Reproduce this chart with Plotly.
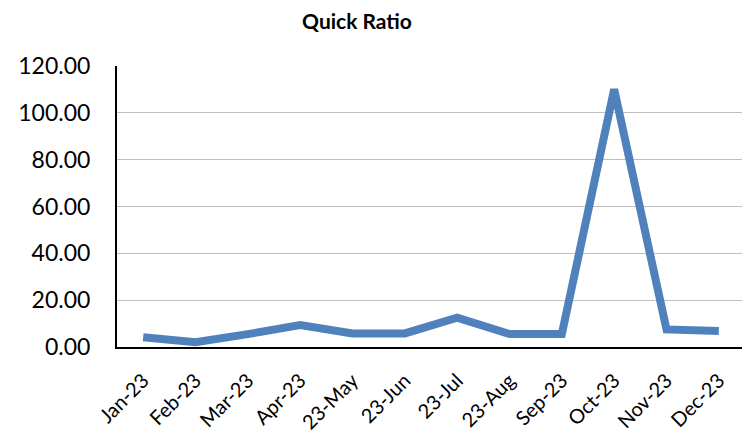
import plotly.graph_objects as go

months = ["Jan-23", "Feb-23", "Mar-23", "Apr-23", "23-May", "23-Jun",
          "23-Jul", "23-Aug", "Sep-23", "Oct-23", "Nov-23", "Dec-23"]
quick_ratio = [4.2, 2.0, 5.5, 9.4, 5.8, 5.8, 12.5, 5.5, 5.5, 110.0, 7.5, 6.8]
y_ticks = [0, 20, 40, 60, 80, 100, 120]

fig = go.Figure()
fig.add_trace(go.Scatter(
    x=months, y=quick_ratio, mode="lines",
    line=dict(color="#4F81BD", width=8, shape="linear"),
    showlegend=False, hoverinfo="skip",
))

# page body adds an 8px offset; figure is sized so it fits the 750x442 window
W, H = 742, 434
font_family = "Lato, 'Open Sans', sans-serif"
fig.update_layout(
    width=W, height=H,
    margin=dict(l=109, r=5, t=58, b=95, autoexpand=False),
    paper_bgcolor="white", plot_bgcolor="white",
    title=dict(text="<b>Quick Ratio</b>", x=349/W, xref="container", xanchor="center",
               y=1-14/H, yref="container", yanchor="middle",
               font=dict(family=font_family, size=21, color="black")),
    xaxis=dict(
        type="category", range=[-0.5, 11.5], automargin=False,
        showgrid=False, showline=True, linecolor="black", linewidth=2,
        ticks="outside", ticklen=12, tickcolor="rgba(0,0,0,0)",
        tickangle=-45, tickfont=dict(family=font_family, size=20, color="black"),
    ),
    yaxis=dict(
        range=[0, 120], tickvals=y_ticks, tickformat=".2f", automargin=False,
        showgrid=True, gridcolor="#BFBFBF", gridwidth=1,
        showline=True, linecolor="black", linewidth=2, zeroline=False,
        ticks="outside", ticklen=20, tickcolor="rgba(0,0,0,0)",
        tickfont=dict(family=font_family, size=23, color="black"),
    ),
)

fig.write_html("out.html")
